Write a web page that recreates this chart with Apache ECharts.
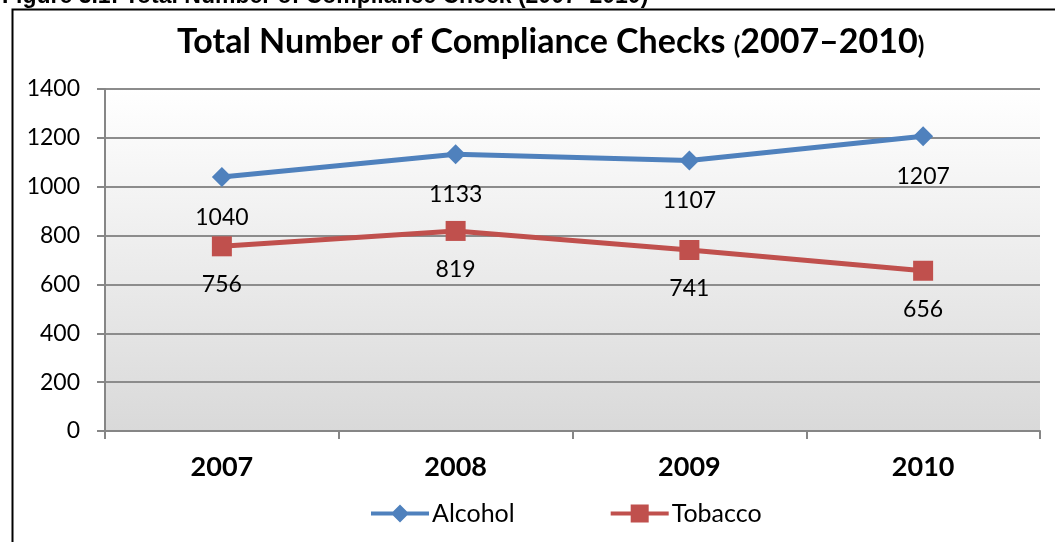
<!DOCTYPE html>
<html><head><meta charset="utf-8">
<script src="https://cdn.jsdelivr.net/npm/echarts@6/dist/echarts.min.js"></script>
<style>html,body{margin:0;padding:0;background:#fff}#c{width:1055px;height:542px}</style>
</head><body><div id="c"></div>
<script>
const years = ['2007', '2008', '2009', '2010'];
const alcohol = [1040, 1133, 1107, 1207];
const tobacco = [756, 819, 741, 656];
const yTicks = [0, 200, 400, 600, 800, 1000, 1200, 1400];

const font = 'Lato, "Open Sans", sans-serif';
const chart = echarts.init(document.getElementById('c'));
chart.setOption({
  animation: false,
  textStyle: { fontFamily: font },
  graphic: [
    { type: 'rect', left: 10, top: 7, shape: { width: 1200, height: 700 }, style: { fill: 'none', stroke: '#000', lineWidth: 2 }, z: 100 },
    { type: 'text', left: 2, top: -15, style: { text: 'Figure 3.1: Total Number of Compliance Check (2007–2010)', font: 'bold 23px "Liberation Sans", Arial, sans-serif', fill: '#000' } }
  ],
  title: {
    text: '{a|Total Number of Compliance Checks }{b|(}{a|2007–2010}{b|)}',
    left: 172, top: 20,
    textStyle: { rich: {
      a: { fontFamily: font, fontWeight: 'bold', fontSize: 34, color: '#000' },
      b: { fontFamily: font, fontWeight: 'bold', fontSize: 24, color: '#000', padding: [8, 0, 0, 0] }
    } }
  },
  legend: {
    bottom: 11, left: 366, itemGap: 96, itemWidth: 58, itemHeight: 18,
    textStyle: { fontFamily: font, fontSize: 25, color: '#000', padding: [0, 0, 0, -2] },
    data: [
      { name: 'Alcohol', icon: 'path://M0 7L58 7L58 11L0 11Z M29 0L38 9L29 18L20 9Z' },
      { name: 'Tobacco', icon: 'path://M0 7L58 7L58 11L0 11Z M20 0L38 0L38 18L20 18Z' }
    ]
  },
  grid: {
    left: 105, right: 15, top: 89, bottom: 111,
    show: true, borderWidth: 0,
    backgroundColor: { type: 'linear', x: 0, y: 0, x2: 0, y2: 1, colorStops: [{ offset: 0, color: '#ffffff' }, { offset: 1, color: '#d9d9d9' }] }
  },
  xAxis: {
    type: 'category', data: years, boundaryGap: true,
    axisLine: { lineStyle: { color: '#868686', width: 2 } },
    axisTick: { show: true, length: 8, lineStyle: { color: '#868686', width: 2 } },
    axisLabel: { fontFamily: font, fontWeight: 'bold', fontSize: 27, color: '#000', margin: 23 }
  },
  yAxis: {
    type: 'value', min: 0, max: 1400, interval: 200,
    axisLine: { show: true, lineStyle: { color: '#868686', width: 2 } },
    axisTick: { show: true, length: 8, lineStyle: { color: '#868686', width: 2 } },
    axisLabel: { fontFamily: font, fontSize: 23, color: '#000', margin: 25,
      formatter: v => yTicks.includes(v) ? String(v) : '' },
    splitLine: { lineStyle: { color: '#8c8c8c', width: 2 } }
  },
  series: [
    { name: 'Alcohol', type: 'line', data: alcohol, symbol: 'diamond', symbolSize: 20,
      color: '#4f81bd', lineStyle: { width: 5, color: '#4f81bd' }, itemStyle: { color: '#4f81bd' },
      label: { show: true, position: 'bottom', distance: 19, fontFamily: font, fontSize: 23, color: '#000' } },
    { name: 'Tobacco', type: 'line', data: tobacco, symbol: 'rect', symbolSize: 20,
      color: '#c0504d', lineStyle: { width: 5, color: '#c0504d' }, itemStyle: { color: '#c0504d' },
      label: { show: true, position: 'bottom', distance: 17, fontFamily: font, fontSize: 23, color: '#000' } }
  ]
});
</script>
</body></html>
